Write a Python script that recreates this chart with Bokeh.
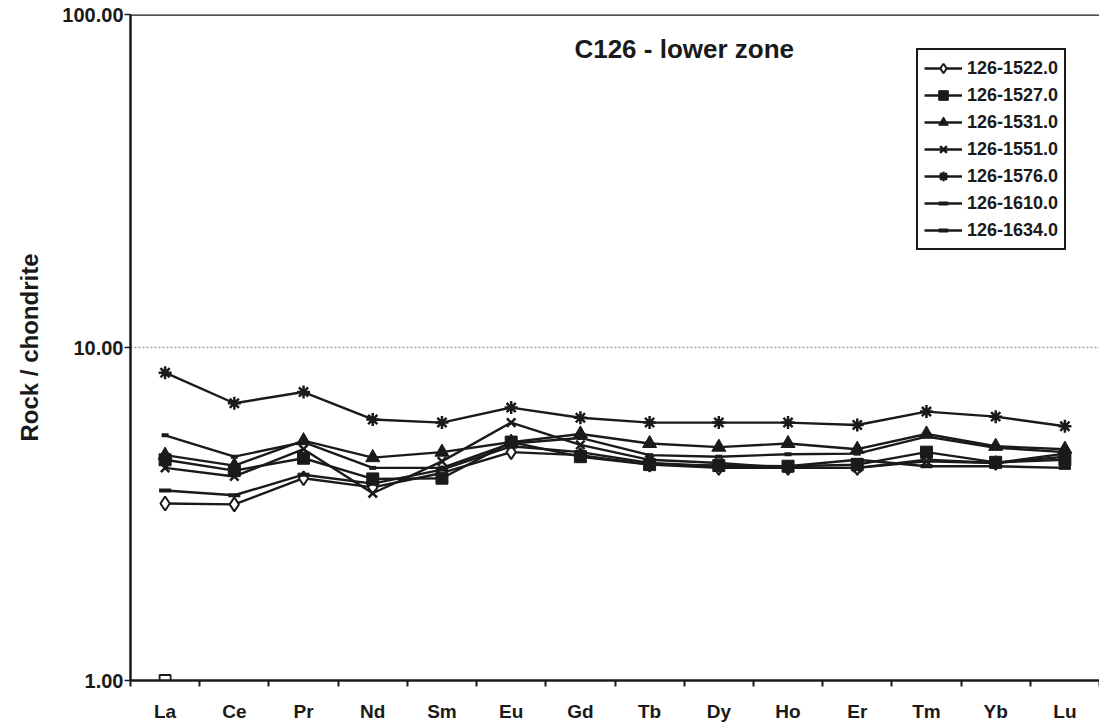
from bokeh.plotting import figure
from bokeh.models import (Range1d, FixedTicker, CustomJSTickFormatter, PrintfTickFormatter,
                          Label, Span, Legend, LegendItem)
from bokeh.embed import file_html
from bokeh.resources import INLINE

elements = ["La", "Ce", "Pr", "Nd", "Sm", "Eu", "Gd", "Tb", "Dy", "Ho", "Er", "Tm", "Yb", "Lu"]

s1522 = [3.40, 3.38, 4.05, 3.80, 4.20, 4.85, 4.75, 4.45, 4.35, 4.35, 4.35, 4.60, 4.50, 4.70]
s1527 = [4.60, 4.27, 4.65, 4.03, 4.05, 5.20, 4.70, 4.45, 4.42, 4.40, 4.45, 4.85, 4.52, 4.60]
s1531 = [4.75, 4.42, 5.25, 4.67, 4.85, 5.20, 5.50, 5.15, 5.02, 5.15, 4.95, 5.50, 5.05, 4.95]
s1551 = [4.35, 4.10, 4.95, 3.65, 4.55, 5.95, 5.10, 4.60, 4.50, 4.35, 4.35, 4.55, 4.50, 4.80]
s1576 = [8.40, 6.80, 7.35, 6.08, 5.95, 6.60, 6.15, 5.95, 5.95, 5.95, 5.85, 6.42, 6.20, 5.80]
s1610 = [5.45, 4.70, 5.20, 4.35, 4.35, 5.15, 5.35, 4.75, 4.70, 4.78, 4.80, 5.40, 5.00, 4.85]
s1634 = [3.72, 3.60, 4.15, 3.90, 4.30, 5.05, 4.85, 4.50, 4.40, 4.40, 4.60, 4.40, 4.40, 4.35]

series_names = ["126-1522.0", "126-1527.0", "126-1531.0", "126-1551.0",
                "126-1576.0", "126-1610.0", "126-1634.0"]
series_values = [s1522, s1527, s1531, s1551, s1576, s1610, s1634]

# stray open square at La = 1.00
stray_element = ["La"]
stray_value = [1.0]

FONT = "Liberation Sans"
INK = "#1a1a1a"

xpos = [i + 0.5 for i in range(len(elements))]

p = figure(width=1099, height=725, x_range=Range1d(0, len(elements)),
           y_range=Range1d(1, 100), y_axis_type="log",
           output_backend="svg", toolbar_location=None,
           min_border_left=130, min_border_top=14, min_border_right=0,
           min_border_bottom=45)
p.outline_line_color = None
p.background_fill_color = "white"
p.border_fill_color = "white"

# x axis
p.xaxis.ticker = FixedTicker(ticks=xpos, minor_ticks=list(range(len(elements) + 1)))
p.xaxis.formatter = CustomJSTickFormatter(args=dict(names=elements),
                                          code="return names[Math.floor(tick)] || ''")
p.xaxis.major_tick_out = 0
p.xaxis.major_tick_in = 0
p.xaxis.minor_tick_out = 6
p.xaxis.minor_tick_in = 0
p.xaxis.minor_tick_line_color = INK
p.xaxis.minor_tick_line_width = 2
p.xaxis.axis_line_color = INK
p.xaxis.axis_line_width = 2.5
p.xaxis.major_label_text_font = FONT
p.xaxis.major_label_text_font_style = "bold"
p.xaxis.major_label_text_font_size = "19px"
p.xaxis.major_label_text_color = INK
p.xaxis.major_label_standoff = 14

# y axis
p.yaxis.ticker = FixedTicker(ticks=[1, 10, 100], minor_ticks=[])
p.yaxis.formatter = PrintfTickFormatter(format="%.2f")
p.yaxis.major_tick_out = 6
p.yaxis.major_tick_in = 0
p.yaxis.major_tick_line_color = INK
p.yaxis.major_tick_line_width = 1.5
p.yaxis.minor_tick_line_color = None
p.yaxis.axis_line_color = INK
p.yaxis.axis_line_width = 2.5
p.yaxis.major_label_text_font = FONT
p.yaxis.major_label_text_font_style = "bold"
p.yaxis.major_label_text_font_size = "20px"
p.yaxis.major_label_text_color = INK
p.yaxis.major_label_standoff = 1
p.yaxis.axis_label = "Rock / chondrite"
p.yaxis.axis_label_text_font = FONT
p.yaxis.axis_label_text_font_style = "bold"
p.yaxis.axis_label_text_font_size = "24px"
p.yaxis.axis_label_text_color = INK
p.yaxis.axis_label_standoff = 16

p.xgrid.visible = False
p.ygrid.grid_line_color = "#9a9a9a"
p.ygrid.grid_line_dash = "2 2"
p.ygrid.grid_line_width = 1.5

p.add_layout(Span(location=100, dimension="width", line_color=INK, line_width=2.5))

styles = [
    dict(marker="diamond", size=14, fill_color="white", line_width=2),
    dict(marker="square", size=12, fill_color=INK, line_width=1),
    dict(marker="triangle", size=14, fill_color=INK, line_width=1),
    dict(marker="x", size=12, fill_color=None, line_width=2.5),
    dict(marker="asterisk", size=13, fill_color=None, line_width=2.5),
    dict(marker="dash", size=7, fill_color=INK, line_width=4),
    dict(marker="dash", size=12, fill_color=INK, line_width=4),
]

items = []
for name, vals, st in zip(series_names, series_values, styles):
    r1 = p.line(xpos, vals, line_color=INK, line_width=2.4)
    r2 = p.scatter(xpos, vals, marker=st["marker"], size=st["size"],
                   fill_color=st["fill_color"], line_color=INK, line_width=st["line_width"])
    items.append(LegendItem(label=name, renderers=[r1, r2]))

stray_x = [elements.index(e) + 0.5 for e in stray_element]
p.scatter(stray_x, stray_value, marker="square", size=11, fill_color="white",
          line_color=INK, line_width=1.8)

legend = Legend(items=items, location=(786, 430))
legend.border_line_color = INK
legend.border_line_alpha = 1
legend.border_line_width = 2.5
legend.background_fill_color = "white"
legend.background_fill_alpha = 1
legend.label_text_font = FONT
legend.label_text_font_style = "bold"
legend.label_text_font_size = "18px"
legend.label_text_color = INK
legend.glyph_width = 38
legend.glyph_height = 24
legend.label_height = 24
legend.spacing = 3
legend.padding = 6
legend.margin = 0
legend.label_standoff = 5
p.add_layout(legend)

p.add_layout(Label(x=8.0, y=79, text="C126 - lower zone", text_align="center",
                   text_baseline="middle", text_font=FONT, text_font_style="bold",
                   text_font_size="26px", text_color=INK))

open("out.html", "w").write(file_html(p, INLINE))
